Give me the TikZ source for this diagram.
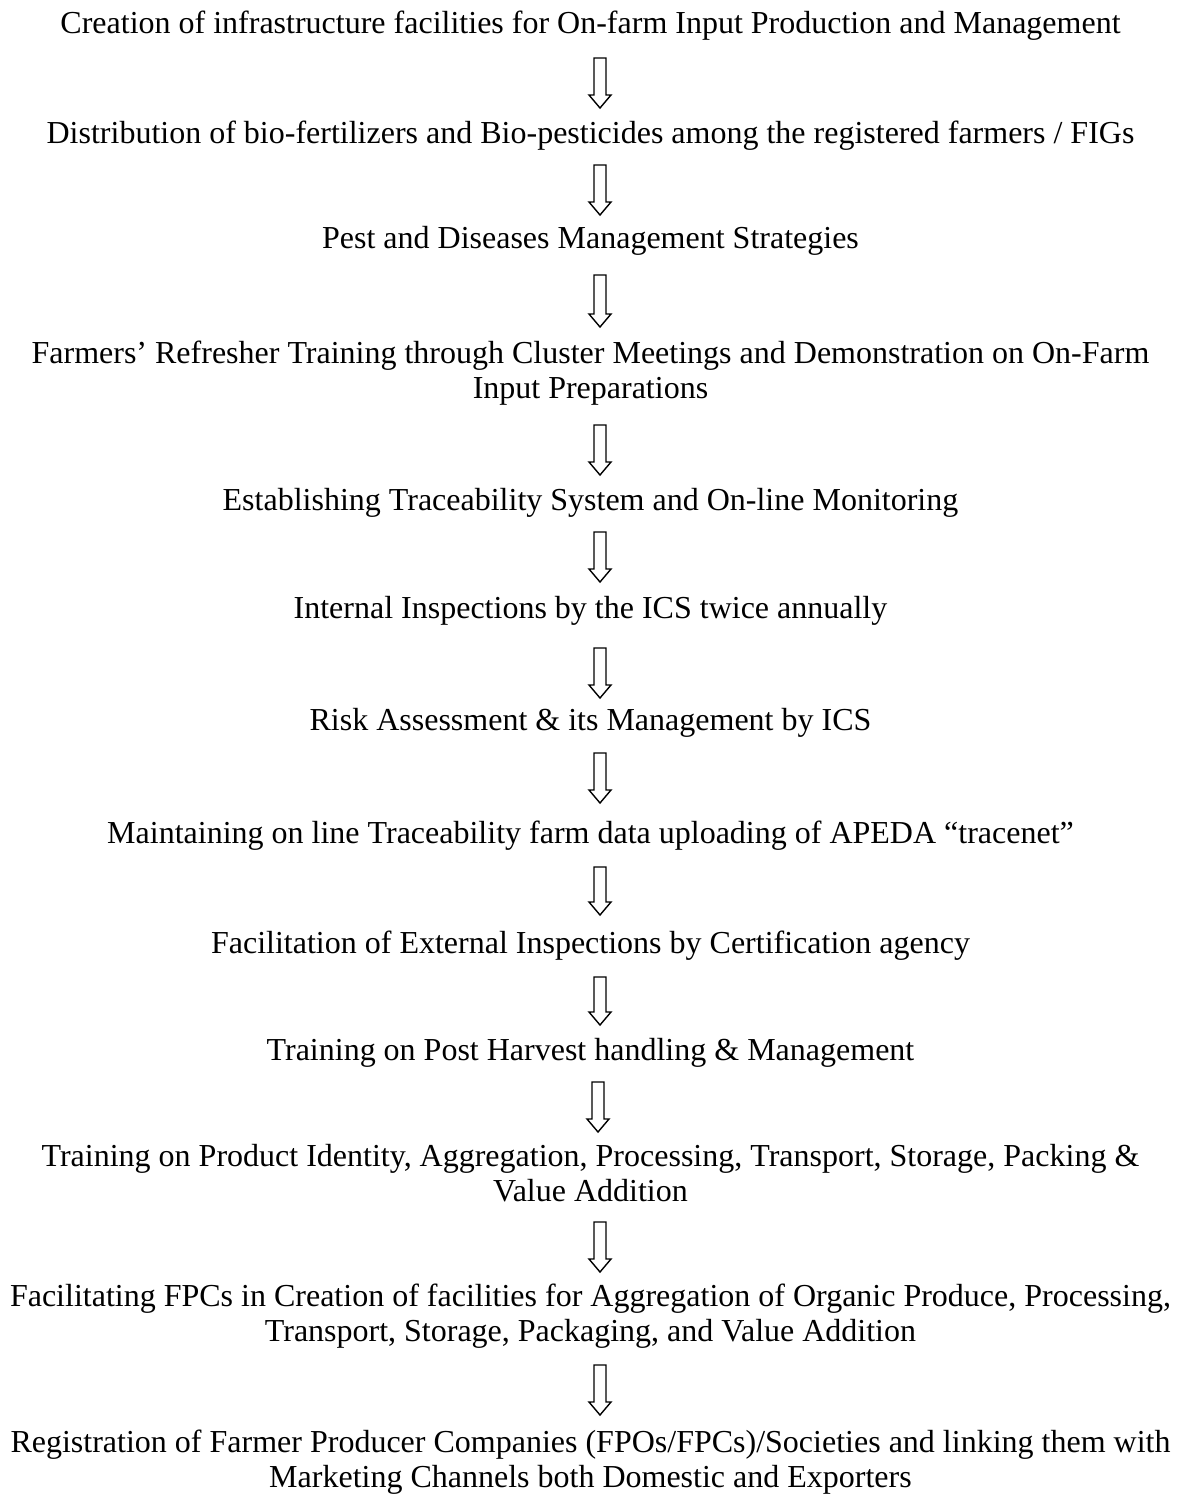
\documentclass[tikz,border=0pt]{standalone}
\usepackage{fontspec}
\setmainfont{Liberation Serif}
\usetikzlibrary{calc,positioning}
\tikzstyle{stage} = [inner sep=0pt, anchor=base, align=center, font=\fontsize{16}{17.5}\selectfont]
\tikzstyle{flow}  = [line width=0.7pt, line join=miter,
  to path={let \p1=(\tikztostart), \p2=(\tikztotarget) in
    (\x1-3pt,\y1) -- (\x1-3pt,\y2+6.5pt) -- (\x1-5.5pt,\y2+6.5pt) -- (\x1,\y2)
    -- (\x1+5.5pt,\y2+6.5pt) -- (\x1+3pt,\y2+6.5pt) -- (\x1+3pt,\y1) -- cycle}]
\begin{document}
\begin{tikzpicture}[x=1pt,y=1pt]
  \useasboundingbox (0,0) rectangle (590.5,-755);
  %Stages
  \node[stage] (infra)   at (295.25,-16.5) {Creation of infrastructure facilities for On-farm Input Production and Management};
  \node[stage] (distrib) at (295.25,-71.5) {Distribution of bio-fertilizers and Bio-pesticides among the registered farmers / FIGs};
  \node[stage] (pest)    at (295.25,-124) {Pest and Diseases Management Strategies};
  \node[stage] (refresh) at (295.25,-199) {Farmers’ Refresher Training through Cluster Meetings and Demonstration on On-Farm\\Input Preparations};
  \node[stage] (trace)   at (295.25,-255) {Establishing Traceability System and On-line Monitoring};
  \node[stage] (inspect) at (295.25,-309) {Internal Inspections by the ICS twice annually};
  \node[stage] (risk)    at (295.25,-365) {Risk Assessment \& its Management by ICS};
  \node[stage] (tracenet) at (295.25,-421.5) {Maintaining on line Traceability farm data uploading of APEDA “tracenet”};
  \node[stage] (extern)  at (295.25,-476.5) {Facilitation of External Inspections by Certification agency};
  \node[stage] (harvest) at (295.25,-530) {Training on Post Harvest handling \& Management};
  \node[stage] (product) at (295.25,-600.5) {Training on Product Identity, Aggregation, Processing, Transport, Storage, Packing \&\\Value Addition};
  \node[stage] (fpc)     at (295.25,-670.5) {Facilitating FPCs in Creation of facilities for Aggregation of Organic Produce, Processing,\\Transport, Storage, Packaging, and Value Addition};
  \node[stage] (regist)  at (295.25,-743.5) {Registration of Farmer Producer Companies (FPOs/FPCs)/Societies and linking them with\\Marketing Channels both Domestic and Exporters};

  %Hollow arrows
  \draw[flow] ([xshift=4.75pt,yshift=-12.5pt]infra.base) to ([yshift=17.5pt]distrib.base);
  \draw[flow] ([xshift=4.75pt,yshift=-11pt]distrib.base) to ([yshift=16.5pt]pest.base);
  \draw[flow] ([xshift=4.75pt,yshift=-13.5pt]pest.base) to ([yshift=35.5pt]refresh.base);
  \draw[flow] ([xshift=4.75pt,yshift=-13.5pt]refresh.base) to ([yshift=17.5pt]trace.base);
  \draw[flow] ([xshift=4.75pt,yshift=-11pt]trace.base) to ([yshift=18pt]inspect.base);
  \draw[flow] ([xshift=4.75pt,yshift=-15pt]inspect.base) to ([yshift=16pt]risk.base);
  \draw[flow] ([xshift=4.75pt,yshift=-11.5pt]risk.base) to ([yshift=20pt]tracenet.base);
  \draw[flow] ([xshift=4.75pt,yshift=-12pt]tracenet.base) to ([yshift=19pt]extern.base);
  \draw[flow] ([xshift=4.75pt,yshift=-12pt]extern.base) to ([yshift=17.5pt]harvest.base);
  \draw[flow] ([xshift=3.75pt,yshift=-11pt]harvest.base) to ([yshift=34.5pt]product.base);
  \draw[flow] ([xshift=4.75pt,yshift=-10.5pt]product.base) to ([yshift=34.5pt]fpc.base);
  \draw[flow] ([xshift=4.75pt,yshift=-12pt]fpc.base) to ([yshift=36pt]regist.base);
\end{tikzpicture}
\end{document}
